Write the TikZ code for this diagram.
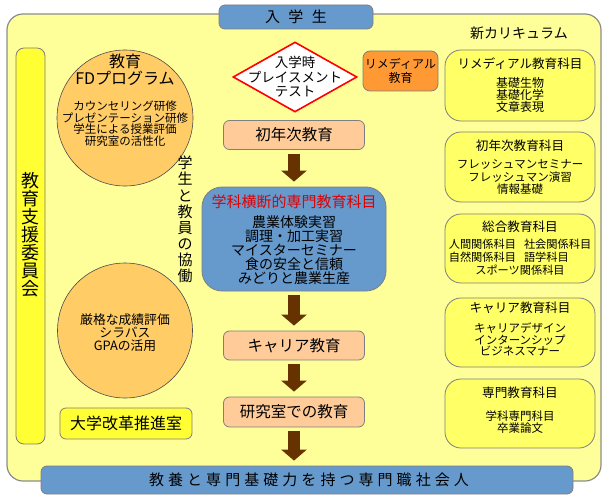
\documentclass[tikz,border=0pt]{standalone}
\usepackage{fontspec}
\newfontfamily\jp{Noto Sans CJK JP}
\newfontfamily\jpwide[LetterSpace=27]{Noto Sans CJK JP}
\usetikzlibrary{shapes.geometric,arrows.meta}
\definecolor{bgyellow}{HTML}{FFFF99}
\definecolor{barblue}{HTML}{6699CC}
\definecolor{circorange}{HTML}{FFCC66}
\definecolor{peach}{HTML}{FFCC99}
\definecolor{remorange}{HTML}{FF9933}
\definecolor{brightyellow}{HTML}{FFFF33}
\definecolor{boxyellow}{HTML}{FFFF66}
\definecolor{arrowbrown}{HTML}{663300}
\definecolor{edgegray}{HTML}{7F7F7F}
\definecolor{titlered}{HTML}{E00000}
\newcommand{\jpsize}[2]{\fontsize{#1}{#2}\selectfont}
\tikzset{
  jptext/.style={text=black, inner sep=0pt, align=center},
  plainbox/.style={draw=edgegray, line width=0.8pt, inner sep=0pt},
  flowbox/.style={plainbox, fill=peach, rounded corners=6pt, minimum width=141pt, minimum height=29pt},
  coursebox/.style={plainbox, fill=boxyellow, rounded corners=16pt, minimum width=150pt},
  circ/.style={circle, draw=black!70, fill=circorange, line width=0.6pt, inner sep=0pt},
  flowarrow/.style={draw=arrowbrown, line width=12pt, -{Triangle[width=25pt,length=11pt]}, shorten <=4pt, shorten >=5pt},
  coursetitle/.style={jptext, font=\jp\jpsize{12.6}{13}},
}
\begin{document}
\begin{tikzpicture}[x=1pt,y=-1pt]
\useasboundingbox (0,0) rectangle (610,500);
% background
\node[draw=black!45, fill=bgyellow, line width=1.2pt, rounded corners=16pt, minimum width=594pt, minimum height=467pt, inner sep=0pt] (bg) at (304,247.5) {};
% top and bottom bars
\node[plainbox, fill=barblue, rounded corners=6pt, minimum width=154pt, minimum height=24pt, font=\jp\jpsize{15}{15}] (start) at (296,17) {入\hspace{8.5pt}学\hspace{8.5pt}生};
\node[plainbox, fill=barblue, rounded corners=6pt, minimum width=532pt, minimum height=28pt] (final) at (307,480) {};
\node[jptext, font=\jpwide\jpsize{15}{15}] (finaltext) at (309,480) {教養と専門基礎力を持つ専門職社会人};
% left bar
\node[plainbox, fill=brightyellow, rounded corners=8pt, minimum width=29pt, minimum height=396pt] (bar) at (30.5,246) {};
\node[jptext, font=\jp\jpsize{18}{18}] (bartext) at (30.5,235) {教\\育\\支\\援\\委\\員\\会};
% circles
\node[circ, minimum size=136pt] (fd) at (125,118) {};
\node[jptext, font=\jp\jpsize{16}{16.5}] (fdtitle) at (125,70) {教育\\FDプログラム};
\node[jptext, font=\jp\jpsize{11.5}{11.7}] (fditems) at (125,123.5) {カウンセリング研修\\プレゼンテーション研修\\学生による授業評価\\研究室の活性化};
\node[circ, minimum size=135pt] (eval) at (125,330.5) {};
\node[jptext, font=\jp\jpsize{12.8}{13}] (evaltext) at (125,333) {厳格な成績評価\\シラバス\\GPAの活用};
\node[plainbox, fill=brightyellow, rounded corners=6pt, minimum width=132pt, minimum height=31pt, font=\jp\jpsize{16}{16}] (suishin) at (126,423.5) {大学改革推進室};
% vertical label
\node[jptext, font=\jp\jpsize{15}{16.1}] (kyodo) at (185,219.5) {学\\生\\と\\教\\員\\の\\協\\働};
% centre flow
\node[diamond, draw=red, fill=white, line width=1.6pt, minimum width=124pt, minimum height=70pt, inner sep=0pt] (test) at (295,77) {};
\node[jptext, font=\jp\jpsize{13.5}{14.5}] (testtext) at (295,77) {入学時\\プレイスメント\\テスト};
\node[plainbox, fill=remorange, rounded corners=7pt, minimum width=75pt, minimum height=40pt, font=\jp\jpsize{12}{14}, align=center] (remedial) at (400.5,71) {リメディアル\\教育};
\node[flowbox, font=\jp\jpsize{15.5}{15.5}] (first) at (294,135) {初年次教育};
\node[plainbox, fill=barblue, rounded corners=20pt, minimum width=184pt, minimum height=104pt] (cross) at (294,239) {};
\node[jptext, text=titlered, font=\jp\jpsize{15}{15}] (crosstitle) at (294,202) {学科横断的専門教育科目};
\node[jptext, font=\jp\jpsize{14}{14}] (crossitems) at (294,250) {農業体験実習\\調理・加工実習\\マイスターセミナー\\食の安全と信頼\\みどりと農業生産};
\node[flowbox, font=\jp\jpsize{15.5}{15.5}] (career) at (294,345.5) {キャリア教育};
\node[flowbox, minimum height=30pt, font=\jp\jpsize{15.5}{15.5}] (lab) at (294,412) {研究室での教育};
\draw[flowarrow] (first.south) -- (first.south |- cross.north);
\draw[flowarrow] (cross.south) -- (cross.south |- career.north);
\draw[flowarrow] (career.south) -- (career.south |- lab.north);
\draw[flowarrow] (lab.south) -- (lab.south |- final.north);
% new curriculum
\node[jptext, font=\jp\jpsize{14}{14}] (newcur) at (519,33) {新カリキュラム};
\node[coursebox, minimum height=71pt] (r1) at (520,85.5) {};
\node[coursetitle] (r1t) at (520,64) {リメディアル教育科目};
\node[jptext, font=\jp\jpsize{12}{12}] (r1i) at (520,95) {基礎生物\\基礎化学\\文章表現};
\node[coursebox, minimum height=70pt] (r2) at (520,167) {};
\node[coursetitle] (r2t) at (520,146) {初年次教育科目};
\node[jptext, font=\jp\jpsize{11.5}{12.5}] (r2i) at (520,177.5) {フレッシュマンセミナー\\フレッシュマン演習\\情報基礎};
\node[coursebox, minimum height=69pt] (r3) at (520,248.5) {};
\node[coursetitle] (r3t) at (520,227) {総合教育科目};
\node[jptext, font=\jp\jpsize{11.2}{11.5}] (r3i) at (520,258.5) {\begin{tabular}{@{}l@{\hspace{8pt}}l@{}}人間関係科目 & 社会関係科目\\ 自然関係科目 & 語学科目\\ \multicolumn{2}{c}{スポーツ関係科目}\end{tabular}};
\node[coursebox, minimum height=69pt] (r4) at (520,332.5) {};
\node[coursetitle] (r4t) at (520,308) {キャリア教育科目};
\node[jptext, font=\jp\jpsize{11.5}{11.5}] (r4i) at (520,339.5) {キャリアデザイン\\インターンシップ\\ビジネスマナー};
\node[coursebox, minimum height=69pt] (r5) at (520,413.5) {};
\node[coursetitle] (r5t) at (520,393) {専門教育科目};
\node[jptext, font=\jp\jpsize{11.5}{12}] (r5i) at (520,422) {学科専門科目\\卒業論文};
\end{tikzpicture}
\end{document}
